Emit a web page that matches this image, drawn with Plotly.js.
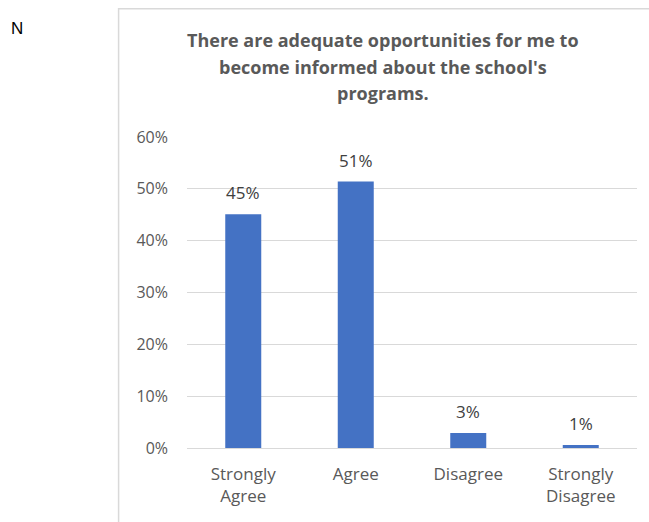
<!DOCTYPE html>
<html>
<head>
<meta charset="utf-8">
<script src="https://cdn.plot.ly/plotly-3.0.1.min.js"></script>
<style>html,body{margin:0;padding:0;background:#fff;}#chart{width:649px;height:522px;}</style>
</head>
<body>
<div id="chart"></div>
<script>
var categories = ["Strongly<br>Agree", "Agree", "Disagree", "Strongly<br>Disagree"];
var values = [45.1, 51.4, 2.9, 0.6];
var labels = ["45%", "51%", "3%", "1%"];
var tickVals = [0, 10, 20, 30, 40, 50, 60];
var tickText = ["0%", "10%", "20%", "30%", "40%", "50%", "60%"];
var titleLines = ["There are adequate opportunities for me to", "become informed about the school's", "programs."];

var FONT = "Open Sans, sans-serif";
var GREY = "#595959";

var trace = {
  type: "bar",
  x: categories,
  y: values,
  marker: {color: "#4472C4"},
  width: 0.32,
  hoverinfo: "none"
};

var annotations = categories.map(function(c, i) {
  return {x: c, y: values[i], xref: "x", yref: "y", text: labels[i], showarrow: false,
    yanchor: "bottom", yshift: 8, font: {family: FONT, size: 17, color: "#404040"}};
});
annotations.push({x: -0.378, y: 1.35, xref: "paper", yref: "paper", text: "N", showarrow: false,
  xanchor: "center", yanchor: "middle", font: {family: "Liberation Sans, Arial, sans-serif", size: 17, color: "#000"}});
var titleY = [40, 67, 93];
titleLines.forEach(function(t, i) {
  annotations.push({x: 0.435, y: (448 - titleY[i]) / 311, xref: "paper", yref: "paper", text: "<b>" + t + "</b>", showarrow: false,
    xanchor: "center", yanchor: "middle", font: {family: FONT, size: 18, color: GREY}});
});

var layout = {
  width: 649, height: 522,
  margin: {l: 187, r: 12, t: 137, b: 74},
  paper_bgcolor: "#fff", plot_bgcolor: "#fff",
  showlegend: false,
  xaxis: {type: "category", range: [-0.5, 3.5], showgrid: false, zeroline: false, showline: false,
    ticks: "", ticklabelstandoff: 14, tickfont: {family: FONT, size: 17, color: GREY}, fixedrange: true},
  yaxis: {range: [0, 60], tickvals: tickVals, ticktext: tickText, showgrid: true, gridcolor: "#d9d9d9",
    gridwidth: 1, zeroline: true, zerolinecolor: "#d9d9d9", zerolinewidth: 1, showline: false, ticks: "",
    ticklen: 0, ticklabelstandoff: 18, tickfont: {family: FONT, size: 16, color: GREY}, fixedrange: true},
  shapes: [{type: "rect", xref: "paper", yref: "paper", x0: -0.152, x1: 1.3, y0: -0.5, y1: 1.412,
    line: {color: "#d9d9d9", width: 1.5}, fillcolor: "rgba(0,0,0,0)", layer: "below"}],
  annotations: annotations
};

Plotly.newPlot("chart", [trace], layout, {displayModeBar: false, staticPlot: true});
</script>
</body>
</html>
